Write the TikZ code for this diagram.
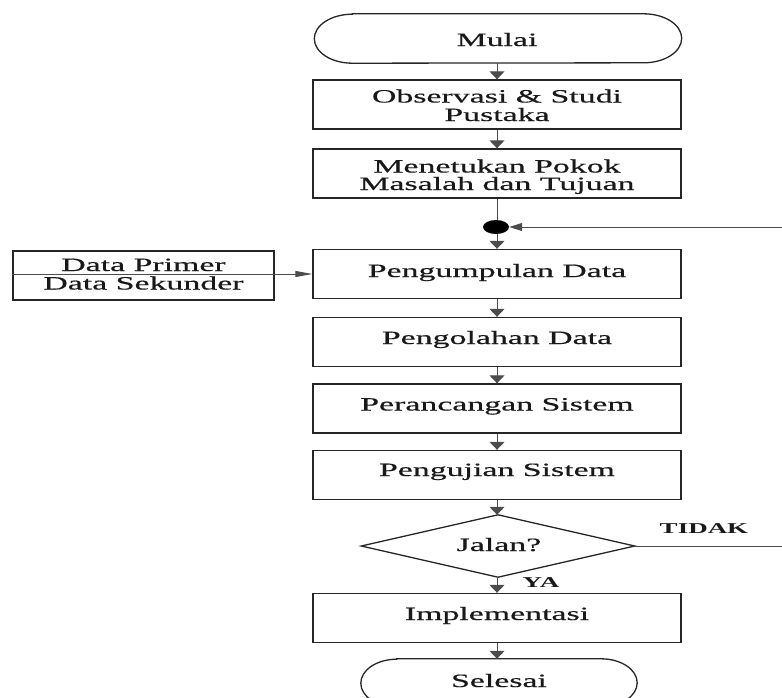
\documentclass[tikz,border=0pt]{standalone}
\usepackage{fontspec}
\setmainfont{Liberation Serif}[FakeStretch=1.8,FakeBold=0.5]
\newfontfamily\lblfont{Liberation Serif Bold}[FakeStretch=1.8]
\usetikzlibrary{arrows.meta,shapes.geometric}
\begin{document}
\begin{tikzpicture}[x=1pt,y=-1pt,
  box/.style={draw=black!85,line width=1.4pt,minimum width=368pt,minimum height=49pt,inner sep=0pt},
  hold/.style={inner sep=0pt},
  outline/.style={draw=black!85,line width=1.3pt},
  txt/.style={font=\fontsize{18.8}{20}\selectfont,anchor=base,inner sep=0pt,text=black!90},
  lbl/.style={font=\lblfont\fontsize{15}{16}\selectfont,anchor=base,inner sep=0pt,text=black!90},
  conn/.style={draw=black!70,line width=1pt},
  va/.style={-{Triangle[length=8pt,width=15pt]}},
  ha/.style={-{Triangle[length=17pt,width=6pt]}},
  ja/.style={-{Triangle[length=13pt,width=8pt]}},
  junc/.style={ellipse,fill=black,minimum width=26pt,minimum height=14pt,inner sep=0pt}
]
\useasboundingbox (0,0) rectangle (782,697);
\clip (0,0) rectangle (782,697);

% start terminator
\node[hold,minimum width=367pt,minimum height=49pt] (mulai) at (498,38.5) {};
\draw[outline] ([xshift=38pt]mulai.north west) -- ([xshift=-38pt]mulai.north east)
  arc[start angle=90,end angle=-90,x radius=38pt,y radius=24.5pt]
  -- ([xshift=38pt]mulai.south west)
  arc[start angle=270,end angle=90,x radius=38pt,y radius=24.5pt] -- cycle;
\node[txt] (mulaiT) at (497,46) {Mulai};

% process boxes
\node[box] (obs) at (497,104.5) {};
\node[txt] (obsT1) at (497,102.5) {Observasi \& Studi};
\node[txt] (obsT2) at (497,121) {Pustaka};

\node[box] (men) at (497,173.5) {};
\node[txt] (menT1) at (497,172.5) {Menetukan Pokok};
\node[txt] (menT2) at (497,190) {Masalah dan Tujuan};

\node[junc] (j) at (496,227) {};

\node[box] (pgm) at (497,274) {};
\node[txt] (pgmT) at (497,277) {Pengumpulan Data};

\node[box] (pgl) at (497,342) {};
\node[txt] (pglT) at (497,344) {Pengolahan Data};

\node[box] (prc) at (497,408.5) {};
\node[txt] (prcT) at (497,410.5) {Perancangan Sistem};

\node[box] (pgj) at (497,475) {};
\node[txt] (pgjT) at (497,476) {Pengujian Sistem};

% decision
\node[hold,minimum width=273pt,minimum height=62pt] (d) at (498,546) {};
\draw[outline] (d.west) -- (d.north) -- (d.east) -- (d.south) -- cycle;
\node[txt] (dT) at (499,551) {Jalan?};
\node[lbl] (tidak) at (704,533) {TIDAK};
\node[lbl] (ya) at (541,587) {YA};

\node[box] (imp) at (497,618) {};
\node[txt] (impT) at (497,620) {Implementasi};

% end terminator
\node[hold,minimum width=276pt,minimum height=48pt] (sel) at (499,683) {};
\draw[outline] ([xshift=36pt]sel.north west) -- ([xshift=-36pt]sel.north east)
  arc[start angle=90,end angle=-90,x radius=36pt,y radius=24pt]
  -- ([xshift=36pt]sel.south west)
  arc[start angle=270,end angle=90,x radius=36pt,y radius=24pt] -- cycle;
\node[txt] (selT) at (499,687) {Selesai};

% data sources
\node[box,minimum width=261pt,minimum height=49pt] (src) at (143.5,275.5) {};
\node[txt] (srcT1) at (143.5,271) {Data Primer};
\node[txt] (srcT2) at (143.5,289.5) {Data Sekunder};

% feedback ends (continue beyond the picture edge)
\coordinate (fbTop) at (782,227);
\coordinate (fbBot) at (782,546);

% connectors
\draw[conn,va] (mulai.south -| obs.north) -- (obs.north);
\draw[conn,va] (obs.south) -- (men.north);
\draw[conn] (men.south) -- (men.south |- j.north);
\draw[conn,va] (j.south -| pgm.north) -- (pgm.north);
\draw[conn,ja] (fbTop) -- (j.east);
\draw[conn,ha] (src.west |- pgm.west) -- (pgm.west);
\draw[conn,va] (pgm.south) -- (pgl.north);
\draw[conn,va] (pgl.south) -- (prc.north);
\draw[conn,va] (prc.south) -- (pgj.north);
\draw[conn,va] (pgj.south) -- (pgj.south |- d.north);
\draw[conn] (d.east) -- (fbBot);
\draw[conn,va] (d.south -| imp.north) -- (imp.north);
\draw[conn,va] (imp.south) -- (imp.south |- sel.north);
\end{tikzpicture}
\end{document}
